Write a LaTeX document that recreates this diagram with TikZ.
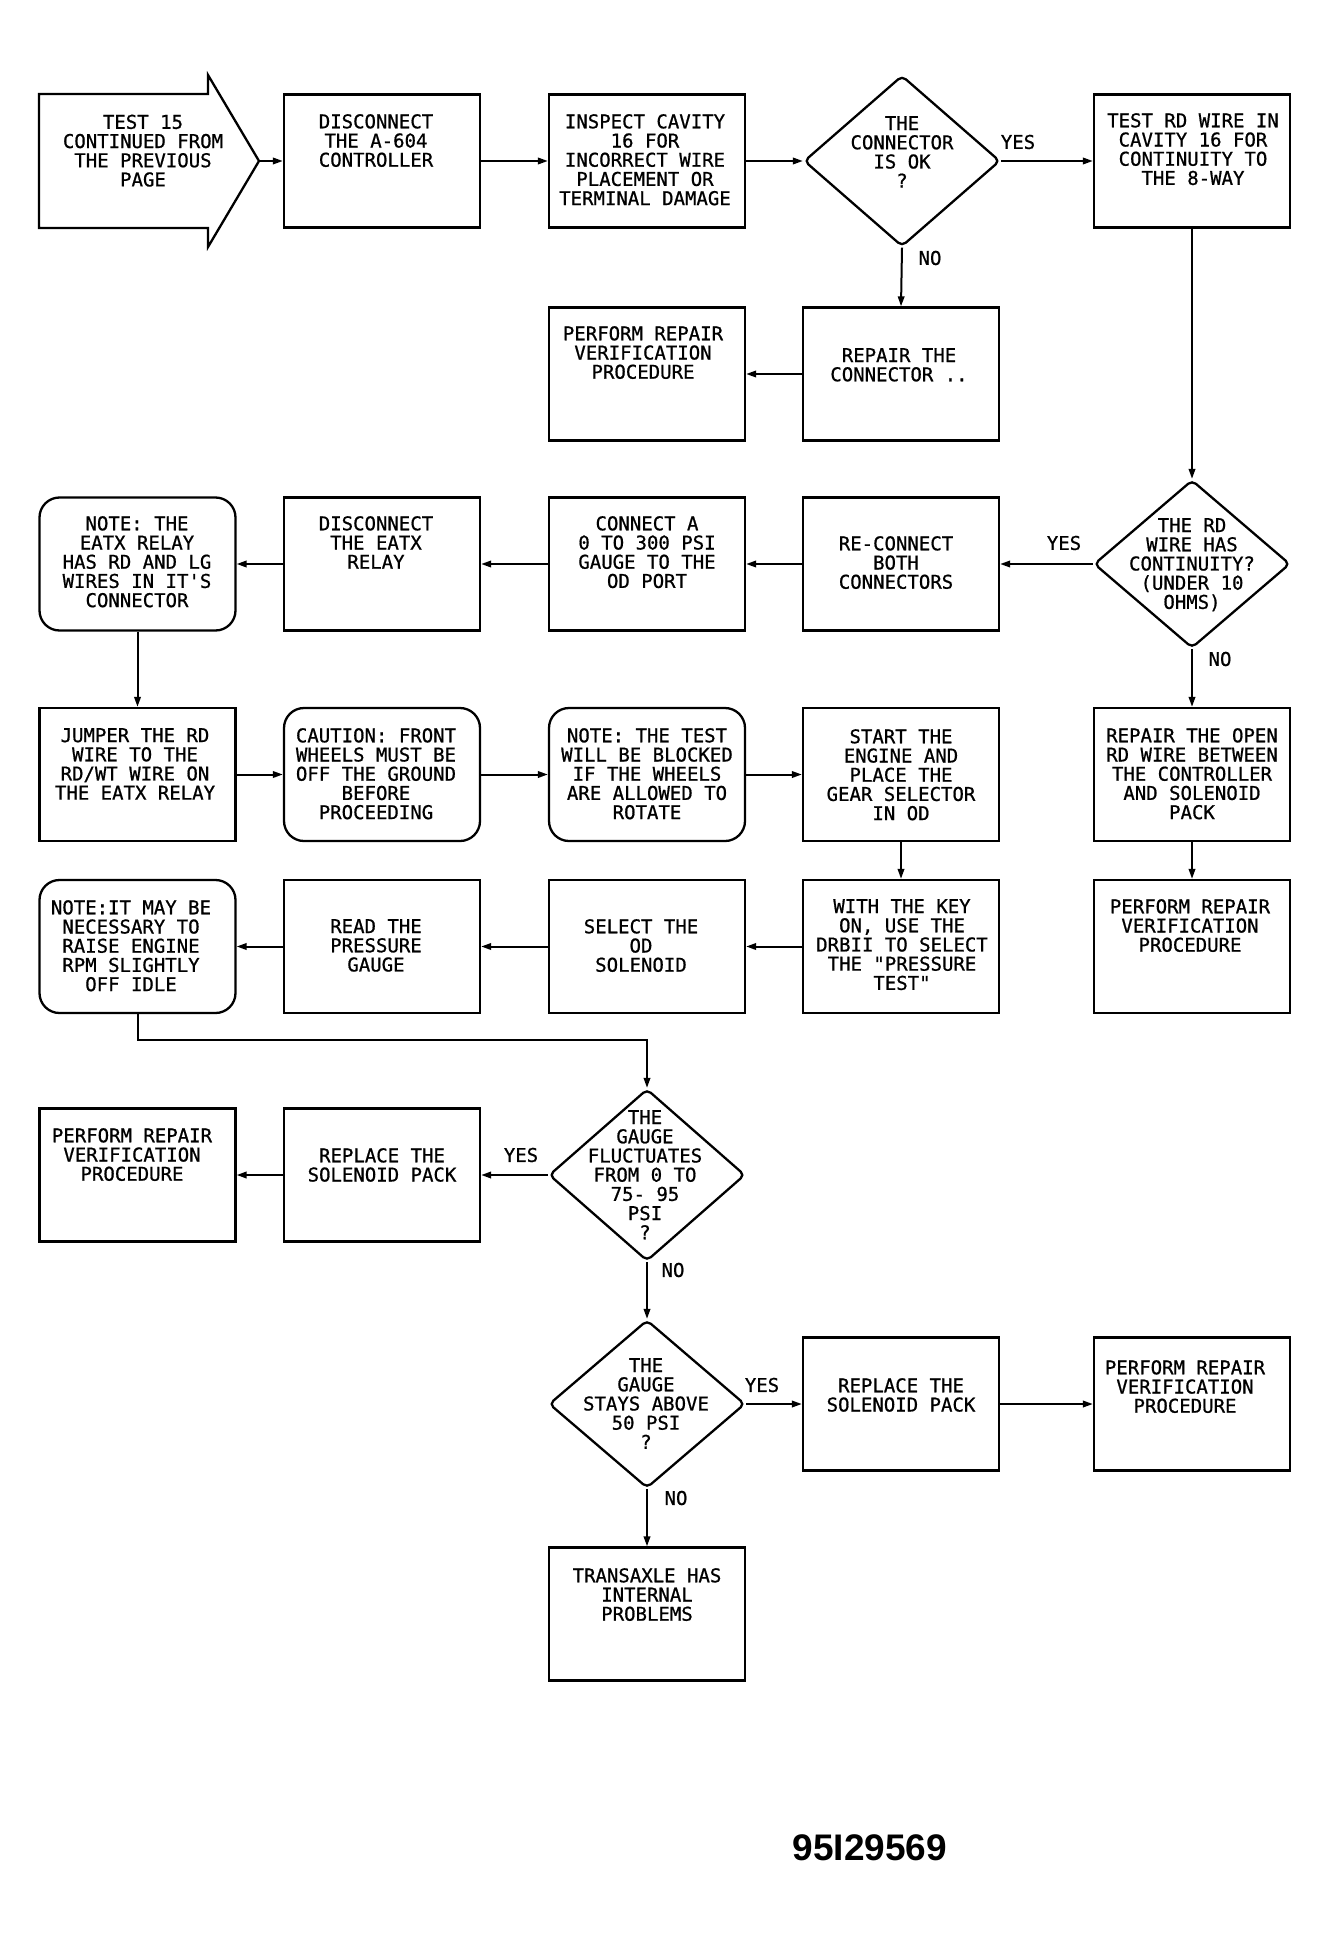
\documentclass[tikz,border=0pt]{standalone}
\usepackage{fontspec}
\newfontfamily\plotfont[FakeBold=0.8]{DejaVu Sans Mono}
\newfontfamily\labelfont{Liberation Sans}
\usetikzlibrary{shapes.geometric,arrows.meta}
\begin{document}
\begin{tikzpicture}[x=1pt,y=-1pt,
  box/.style={draw, line width=2.3pt, minimum width=196pt, minimum height=133pt, inner sep=0pt},
  rbox/.style={box, rounded corners=20pt},
  dia/.style={draw, diamond, line width=2.3pt, minimum width=196pt, inner sep=0pt, rounded corners=5pt},
  txt/.style={font=\plotfont\fontsize{19}{19.2}\selectfont, align=center, inner sep=0pt, anchor=north},
  lbl/.style={font=\plotfont\fontsize{19}{19.2}\selectfont, inner sep=0pt},
  conn/.style={line width=2pt, -{Triangle[length=10pt,width=6.5pt]}},
]
\useasboundingbox[fill=white] (0,0) rectangle (1328,1937);

% start arrow
\draw[line width=2.3pt, line join=miter] (39,94) -- (208,94) -- (208,75) -- (259,161) -- (208,247) -- (208,228) -- (39,228) -- cycle;
\coordinate (tip) at (259,161);
\node[txt] (tstart) at (143,114.5) {TEST 15\\CONTINUED FROM\\THE PREVIOUS\\PAGE};

% row 1
\node[box] (a604) at (382,161) {};
\node[txt] (ta604) at (376,114) {DISCONNECT\\THE A-604\\CONTROLLER};
\node[box] (insp) at (647,161) {};
\node[txt] (tinsp) at (645,114) {INSPECT CAVITY\\16 FOR\\INCORRECT WIRE\\PLACEMENT OR\\TERMINAL DAMAGE};
\node[dia, minimum height=171pt] (d1) at (902,161) {};
\node[txt] (td1) at (902,116) {THE\\CONNECTOR\\IS OK\\?};
\node[box] (testrd) at (1192,161) {};
\node[txt] (ttestrd) at (1193,113) {TEST RD WIRE IN\\CAVITY 16 FOR\\CONTINUITY TO\\THE 8-WAY};

\node[box] (perf1) at (647,374) {};
\node[txt] (tperf1) at (643,326) {PERFORM REPAIR\\VERIFICATION\\PROCEDURE};
\node[box] (repconn) at (901,374) {};
\node[txt] (trepconn) at (899,348) {REPAIR THE\\CONNECTOR ..};

% row 2
\node[dia, minimum height=168pt] (d2) at (1192,564) {};
\node[txt] (td2) at (1192,518) {THE RD\\WIRE HAS\\CONTINUITY?\\(UNDER 10\\OHMS)};
\node[box] (recon) at (901,564) {};
\node[txt] (trecon) at (896,536) {RE-CONNECT\\BOTH\\CONNECTORS};
\node[box] (conna) at (647,564) {};
\node[txt] (tconna) at (647,516) {CONNECT A\\0 TO 300 PSI\\GAUGE TO THE\\OD PORT};
\node[box] (discx) at (382,564) {};
\node[txt] (tdiscx) at (376,516) {DISCONNECT\\THE EATX\\RELAY};
\node[rbox] (notex) at (137.5,564) {};
\node[txt] (tnotex) at (137,516) {NOTE: THE\\EATX RELAY\\HAS RD AND LG\\WIRES IN IT'S\\CONNECTOR};

% row 3
\node[box] (jump) at (137.5,774.5) {};
\node[txt] (tjump) at (135,728) {JUMPER THE RD\\WIRE TO THE\\RD/WT WIRE ON\\THE EATX RELAY};
\node[rbox] (caut) at (382,774.5) {};
\node[txt] (tcaut) at (376,728) {CAUTION: FRONT\\WHEELS MUST BE\\OFF THE GROUND\\BEFORE\\PROCEEDING};
\node[rbox] (notet) at (647,774.5) {};
\node[txt] (tnotet) at (647,728) {NOTE: THE TEST\\WILL BE BLOCKED\\IF THE WHEELS\\ARE ALLOWED TO\\ROTATE};
\node[box] (start) at (901,774.5) {};
\node[txt] (tstarte) at (901,729) {START THE\\ENGINE AND\\PLACE THE\\GEAR SELECTOR\\IN OD};
\node[box] (repopen) at (1192,774.5) {};
\node[txt] (trepopen) at (1192,728) {REPAIR THE OPEN\\RD WIRE BETWEEN\\THE CONTROLLER\\AND SOLENOID\\PACK};

% row 4
\node[rbox] (noteit) at (137.5,946.5) {};
\node[txt] (tnoteit) at (131,900) {NOTE:IT MAY BE\\NECESSARY TO\\RAISE ENGINE\\RPM SLIGHTLY\\OFF IDLE};
\node[box] (readp) at (382,946.5) {};
\node[txt] (treadp) at (376,919) {READ THE\\PRESSURE\\GAUGE};
\node[box] (selod) at (647,946.5) {};
\node[txt] (tselod) at (641,919) {SELECT THE\\OD\\SOLENOID};
\node[box] (wkey) at (901,946.5) {};
\node[txt] (twkey) at (902,899) {WITH THE KEY\\ON, USE THE\\DRBII TO SELECT\\THE "PRESSURE\\TEST"};
\node[box] (perf2) at (1192,946.5) {};
\node[txt] (tperf2) at (1190,899) {PERFORM REPAIR\\VERIFICATION\\PROCEDURE};

% row 5
\coordinate (elbow) at (647,1040);
\node[dia, minimum height=172pt] (d3) at (647,1175) {};
\node[txt] (td3) at (645,1110) {THE\\GAUGE\\FLUCTUATES\\FROM 0 TO\\75- 95\\PSI\\?};
\node[box] (repl5) at (382,1175) {};
\node[txt] (trepl5) at (382,1148) {REPLACE THE\\SOLENOID PACK};
\node[box] (perf3) at (137.5,1175) {};
\node[txt] (tperf3) at (132,1128) {PERFORM REPAIR\\VERIFICATION\\PROCEDURE};

% row 6
\node[dia, minimum height=168pt] (d4) at (647,1404) {};
\node[txt] (td4) at (646,1358) {THE\\GAUGE\\STAYS ABOVE\\50 PSI\\?};
\node[box] (repl6) at (901,1404) {};
\node[txt] (trepl6) at (901,1378) {REPLACE THE\\SOLENOID PACK};
\node[box] (perf4) at (1192,1404) {};
\node[txt] (tperf4) at (1185,1360) {PERFORM REPAIR\\VERIFICATION\\PROCEDURE};
\node[box] (trans) at (647,1614) {};
\node[txt] (ttrans) at (647,1568) {TRANSAXLE HAS\\INTERNAL\\PROBLEMS};

% labels
\node[lbl] (yes1) at (1018,142) {YES};
\node[lbl] (no1) at (930,258) {NO};
\node[lbl] (yes2) at (1064,543) {YES};
\node[lbl] (no2) at (1220,659) {NO};
\node[lbl] (yes3) at (521,1155) {YES};
\node[lbl] (no3) at (673,1270) {NO};
\node[lbl] (yes4) at (762,1385) {YES};
\node[lbl] (no4) at (676,1498) {NO};

\node[font=\labelfont\bfseries\fontsize{37}{40}\selectfont, inner sep=0pt] (fignum) at (870,1848) {95I29569};

% connectors
\draw[conn] (tip) -- (a604.west);
\draw[conn] (a604.east) -- (insp.west);
\draw[conn] (insp.east) -- (d1.west);
\draw[conn] (d1.east) -- (testrd.west);
\draw[conn] (d1.south) -- (repconn.north);
\draw[conn] (repconn.west) -- (perf1.east);
\draw[conn] (testrd.south) -- (d2.north);
\draw[conn] (d2.west) -- (recon.east);
\draw[conn] (recon.west) -- (conna.east);
\draw[conn] (conna.west) -- (discx.east);
\draw[conn] (discx.west) -- (notex.east);
\draw[conn] (notex.south) -- (jump.north);
\draw[conn] (jump.east) -- (caut.west);
\draw[conn] (caut.east) -- (notet.west);
\draw[conn] (notet.east) -- (start.west);
\draw[conn] (start.south) -- (wkey.north);
\draw[conn] (d2.south) -- (repopen.north);
\draw[conn] (repopen.south) -- (perf2.north);
\draw[conn] (wkey.west) -- (selod.east);
\draw[conn] (selod.west) -- (readp.east);
\draw[conn] (readp.west) -- (noteit.east);
\draw[conn] (noteit.south) |- (elbow) -- (d3.north);
\draw[conn] (d3.west) -- (repl5.east);
\draw[conn] (repl5.west) -- (perf3.east);
\draw[conn] (d3.south) -- (d4.north);
\draw[conn] (d4.east) -- (repl6.west);
\draw[conn] (repl6.east) -- (perf4.west);
\draw[conn] (d4.south) -- (trans.north);
\end{tikzpicture}
\end{document}
